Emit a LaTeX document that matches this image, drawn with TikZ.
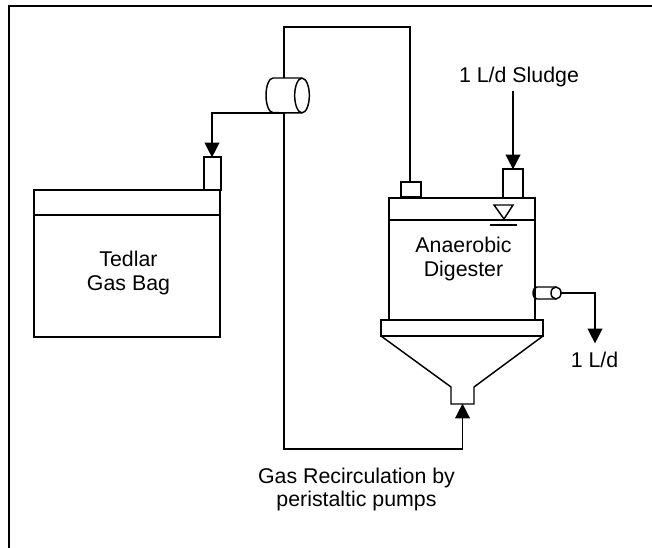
\documentclass[tikz,border=0pt]{standalone}
\usepackage{fontspec}
\setmainfont{Liberation Sans}
\usetikzlibrary{arrows.meta}
\tikzset{
	pipe/.style={line width=1.1pt},
	flow/.style={pipe, -{Triangle[length=11pt,width=11pt]}, shorten >=-0.3pt},
	vessel/.style={draw, line width=1.1pt, inner sep=0pt, outer sep=0pt, anchor=north west},
	label/.style={font=\fontsize{16}{17.6}\selectfont, align=center, inner sep=0pt}
}
\begin{document}
\begin{tikzpicture}[x=0.75pt, y=-0.75pt]
	\useasboundingbox (0,0) rectangle (652,548);

	% frame
	\draw[line width=1.5pt] (9,548) -- (9,6) -- (652,6);

	% gas bag
	\node[vessel, minimum width=139.5pt, minimum height=110.25pt] (bag) at (34,190) {};
	\node[vessel, minimum width=12.75pt, minimum height=24.75pt] (bagport) at (204,157) {};
	\draw[pipe] (34,215) -- (220,215);
	\node[label] (baglabel) at (128.5,273) {Tedlar\\Gas Bag};

	% digester
	\node[vessel, minimum width=109.5pt, minimum height=91.5pt] (tank) at (389,198) {};
	\draw[pipe] (389,220) -- (535,220);
	\node[vessel, minimum width=121.5pt, minimum height=12pt] (flange) at (381,320) {};
	\node[vessel, minimum width=15pt, minimum height=11.25pt] (gasport) at (401,182) {};
	\node[vessel, minimum width=15pt, minimum height=21.75pt] (feedport) at (503,169) {};
	\draw[pipe] (flange.south west) -- (451,387) -- (451,404) -- (474,404) -- (474,387) -- (flange.south east);
	\coordinate (neck) at (462.5,404);
	\node[label] (tanklabel) at (463.5,259) {Anaerobic\\Digester};

	% water level
	\draw[pipe] (494,205) -- (513,205) -- (504,219) -- cycle;
	\draw[pipe] (490,225) -- (517,225);

	% pump
	\draw[pipe] (302,95.5) ellipse [x radius=5.5pt, y radius=13pt];
	\draw[pipe] (302,78) -- (273,78) arc [start angle=90, end angle=270, x radius=5.25pt, y radius=13pt] -- (302,113);
	\coordinate (pumptop) at (284,78);
	\coordinate (pumpbottom) at (284,113);
	\coordinate (corner) at (410,27);

	% outlet
	\draw[pipe] (556,293) ellipse [x radius=3.75pt, y radius=4.5pt];
	\draw[pipe] (556,287) -- (537,287) arc [start angle=90, end angle=270, x radius=3pt, y radius=4.5pt] -- (556,299);
	\coordinate (outlet) at (561,293);

	% gas lines
	\draw[pipe] (pumptop) |- (corner) -- (gasport.north -| corner);
	\draw[flow] (pumpbottom) -- (212,113) -- (212,157);
	\draw[flow] (pumpbottom) |- (462.5,449) -- (neck);

	% labels and feed
	\node[label] (sludge) at (519,76.5) {1 L/d Sludge};
	\node[label] (out) at (594.5,360) {1 L/d};
	\node[label] (recirc) at (356.5,489.5) {Gas Recirculation by\\peristaltic pumps};
	\coordinate (feed) at (513,91);
	\draw[flow] (feed) -- (feedport.north);
	\draw[flow] (outlet) -- (595,293) -- (595,343);
\end{tikzpicture}
\end{document}
